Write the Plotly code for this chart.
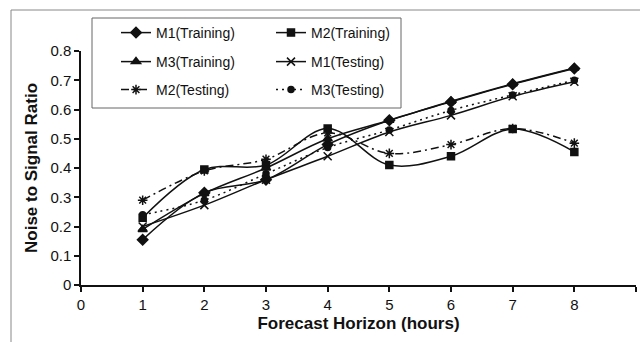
import plotly.graph_objects as go

hours = [1, 2, 3, 4, 5, 6, 7, 8]
m1_train = [0.155, 0.315, 0.36, 0.48, 0.563, 0.626, 0.686, 0.74]
m2_train = [0.23, 0.395, 0.41, 0.535, 0.41, 0.44, 0.533, 0.455]
m3_train = [0.19, 0.313, 0.40, 0.50, 0.563, 0.628, 0.688, 0.742]
m1_test = [0.20, 0.273, 0.36, 0.44, 0.523, 0.58, 0.645, 0.695]
m2_test = [0.29, 0.39, 0.43, 0.52, 0.45, 0.48, 0.535, 0.485]
m3_test = [0.24, 0.29, 0.38, 0.47, 0.53, 0.597, 0.65, 0.70]

names = ["M1(Training)", "M2(Training)", "M3(Training)",
         "M1(Testing)", "M2(Testing)", "M3(Testing)"]
series = [m1_train, m2_train, m3_train, m1_test, m2_test, m3_test]
symbols = ["diamond", "square", "triangle-up", "x-thin-open", "asterisk-open", "circle"]
msizes = [8, 7, 8, 8, 8, 6]
dashes = ["solid", "solid", "solid", "solid", "8px,4px,2px,4px", "2px,4px"]
legends = ["legend", "legend", "legend2", "legend2", "legend3", "legend3"]

W, H = 640, 342
L, R, T, B = 81, 4, 51, 57
PW, PH = W - L - R, H - T - B

def px(x):
    return (x - L) / PW

def py(y):
    return (H - B - y) / PH

INK = "#111111"
fig = go.Figure()
for nm, ys, sym, ms, ds, lg in zip(names, series, symbols, msizes, dashes, legends):
    fig.add_trace(go.Scatter(
        x=hours, y=ys, name=nm, mode="lines+markers",
        line=dict(color=INK, width=1.5, dash=ds, shape="spline", smoothing=1.0),
        marker=dict(symbol=sym, size=ms, color=INK, line=dict(color=INK, width=1.5)),
        legend=lg,
    ))

font = dict(family="Liberation Sans, Arial, sans-serif", color=INK)
leg_common = dict(orientation="h", xanchor="left", yanchor="middle",
                  x=px(116), bgcolor="rgba(0,0,0,0)", borderwidth=0,
                  font=dict(size=14, **font), entrywidth=110, entrywidthmode="pixels",
                  itemsizing="trace", tracegroupgap=0)

fig.update_layout(
    width=W, height=H,
    margin=dict(l=L, r=R, t=T, b=B, pad=0),
    paper_bgcolor="white", plot_bgcolor="white",
    font=dict(size=15, **font),
    showlegend=True,
    legend=dict(y=py(33), **leg_common),
    legend2=dict(y=py(62), **leg_common),
    legend3=dict(y=py(90), **leg_common),
    xaxis=dict(range=[0, 9], dtick=1, tick0=0, showline=True, linecolor=INK, linewidth=1.5,
               ticks="outside", ticklen=5, tickwidth=1.5, tickcolor=INK, showgrid=False,
               zeroline=False, tickfont=dict(size=15, **font),
               title=dict(text="<b>Forecast Horizon (hours)</b>", font=dict(size=17, **font), standoff=5)),
    yaxis=dict(range=[0, 0.8], dtick=0.1, tick0=0, showline=True, linecolor=INK, linewidth=1.5,
               ticks="outside", ticklen=5, tickwidth=1.5, tickcolor=INK, showgrid=False,
               zeroline=False, tickfont=dict(size=15, **font),
               title=dict(text="<b>Noise to Signal Ratio</b>", font=dict(size=17, **font), standoff=8)),
    shapes=[
        dict(type="rect", xref="paper", yref="paper", x0=px(92), x1=px(401), y0=py(108), y1=py(18),
             line=dict(color="#666666", width=1), fillcolor="rgba(0,0,0,0)", layer="below"),
        dict(type="path", xref="paper", yref="paper",
             path=f"M {px(11)} {py(342)} L {px(11)} {py(10)} L {px(640)} {py(10)}",
             line=dict(color="#888888", width=1)),
    ],
)

fig.write_html("out.html")
